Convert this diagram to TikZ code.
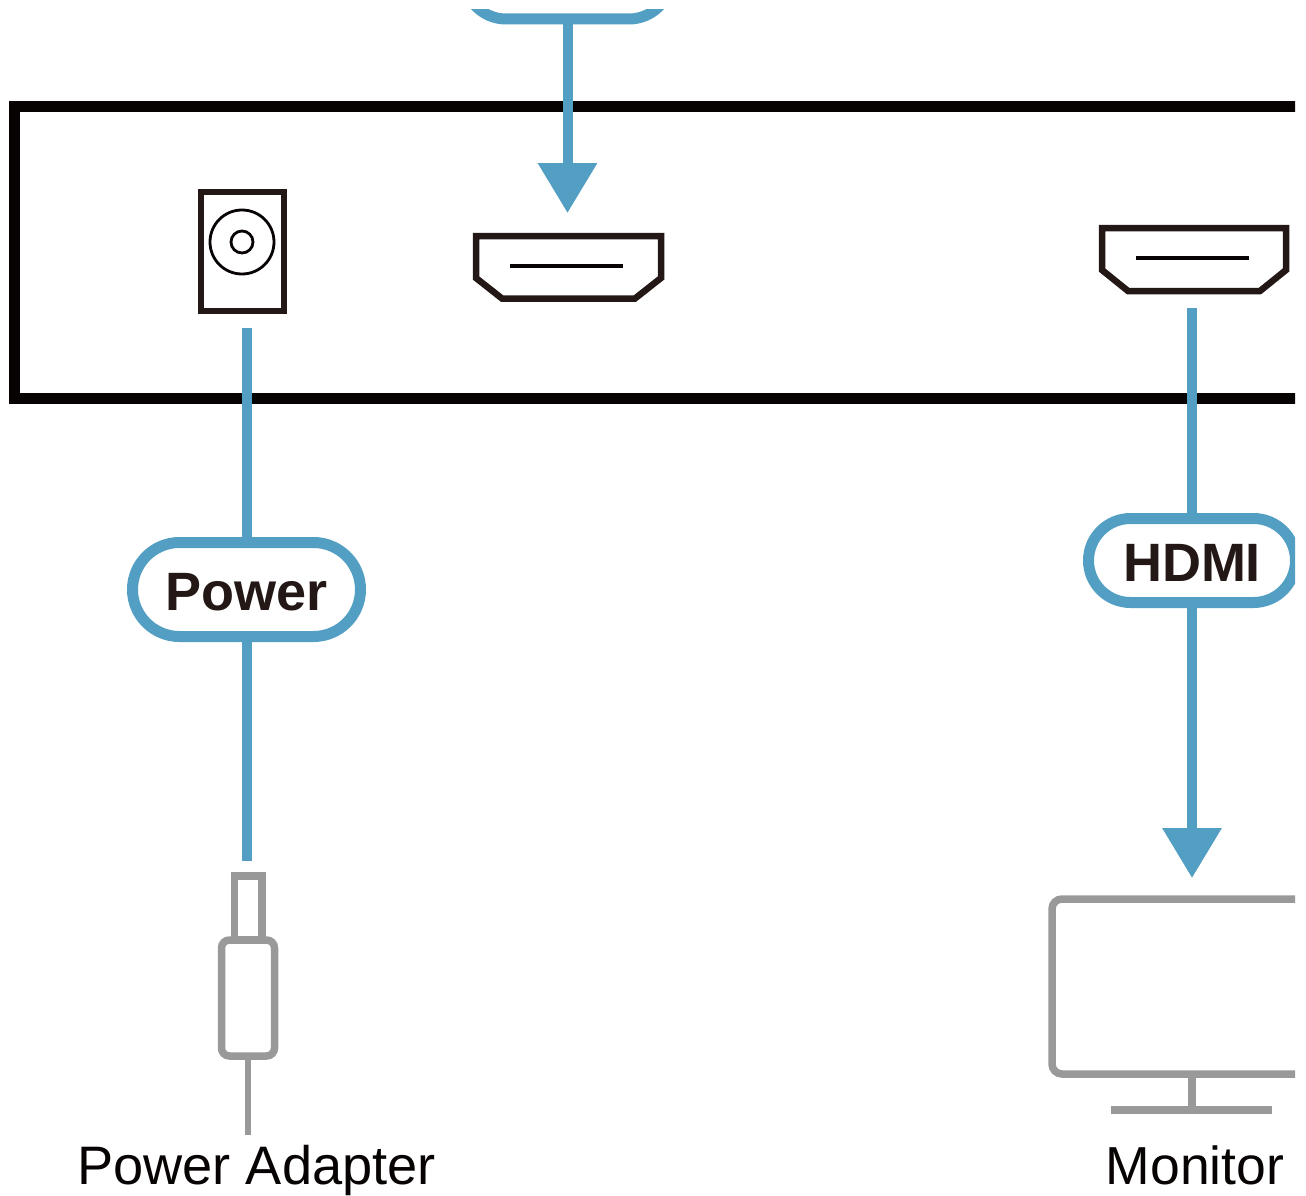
\documentclass[tikz,border=0pt]{standalone}
\usepackage{fontspec}
\setmainfont{Liberation Sans}
\usetikzlibrary{arrows.meta,shapes.misc}
\definecolor{cblue}{HTML}{529FC3}
\definecolor{cblack}{HTML}{070303}
\definecolor{cbrown}{HTML}{231815}
\definecolor{cgray}{HTML}{999999}
\tikzset{
  pill/.style={rounded rectangle,draw=cblue,line width=11pt,fill=white,inner sep=0pt,text=cbrown,text height=41.4pt,text depth=0pt,font=\fontsize{54}{54}\selectfont\bfseries},
  wire/.style={draw=cblue,line width=10pt},
  wirearrow/.style={wire,-{Triangle[length=50pt,width=57pt]}},
  port/.style={draw=cbrown,line width=6.5pt,miter limit=10},
  slot/.style={draw=cblack,line width=3.3pt},
  ring/.style={draw=cblack,line width=2.8pt},
  device/.style={draw=cgray,line width=7.5pt},
  caption/.style={inner sep=0pt,anchor=base,text=cblack}
}
\begin{document}
\begin{tikzpicture}[x=1pt,y=-1pt]
\useasboundingbox (0,0) rectangle (1306,1196);
\clip (0,10) rectangle (1295,1196);
% main frame
\draw[cblack,line width=11pt,miter limit=10] (1320,106.5) -- (14.5,106.5) -- (14.5,398) -- (1320,398);
% pills
\node[pill,minimum width=207pt,minimum height=84pt] (input) at (567.5,-23) {};
\node[pill,minimum width=228pt,minimum height=94pt] (power) at (246.5,589.5) {Power};
\node[pill,minimum width=207pt,minimum height=84pt] (hdmi) at (1192,560.5) {HDMI};
% free ends
\coordinate (inTip) at (567.5,213);
\coordinate (jackEnd) at (246.5,328);
\coordinate (plugEnd) at (246.5,861);
\coordinate (outStart) at (1192,308);
\coordinate (outTip) at (1192,878);
% connectors
\draw[wirearrow] (input.south) -- (inTip);
\draw[wire] (jackEnd) -- (power.north);
\draw[wire] (power.south) -- (plugEnd);
\draw[wire] (outStart) -- (hdmi.north);
\draw[wirearrow] (hdmi.south) -- (outTip);
% DC jack
\draw[port] (201,192) rectangle (284,311);
\draw[ring] (242,242) circle (32pt);
\draw[ring] (242,242) circle (11pt);
% HDMI in port
\draw[port] (476,236) -- (661,236) -- (661,278) -- (635,298.5) -- (502,298.5) -- (476,278) -- cycle;
\draw[slot] (510,266) -- (623,266);
% HDMI out port
\draw[port] (1102,228) -- (1286,228) -- (1286,270) -- (1260,291) -- (1128,291) -- (1102,270) -- cycle;
\draw[slot] (1136,258) -- (1249,258);
% power plug
\draw[device] (234.5,876) rectangle (262,940);
\node[device,rounded corners=8pt,fill=white,minimum width=53pt,minimum height=116pt,inner sep=0pt] (plug) at (248,998) {};
\coordinate (cordEnd) at (248,1135);
\draw[cgray,line width=6.5pt] (plug.south) -- (cordEnd);
% monitor
\draw[device,rounded corners=10pt] (1340,899) -- (1052,899) -- (1052,1074) -- (1340,1074);
\draw[device] (1192,1074) -- (1192,1110);
\draw[device] (1111,1110) -- (1272,1110);
% captions
\node[caption,font=\fontsize{54.2}{54}\selectfont] (adapter) at (256.5,1184) {Power Adapter};
\node[caption,font=\fontsize{53.5}{54}\selectfont] (monitor) at (1195,1184) {Monitor};
\end{tikzpicture}
\end{document}
